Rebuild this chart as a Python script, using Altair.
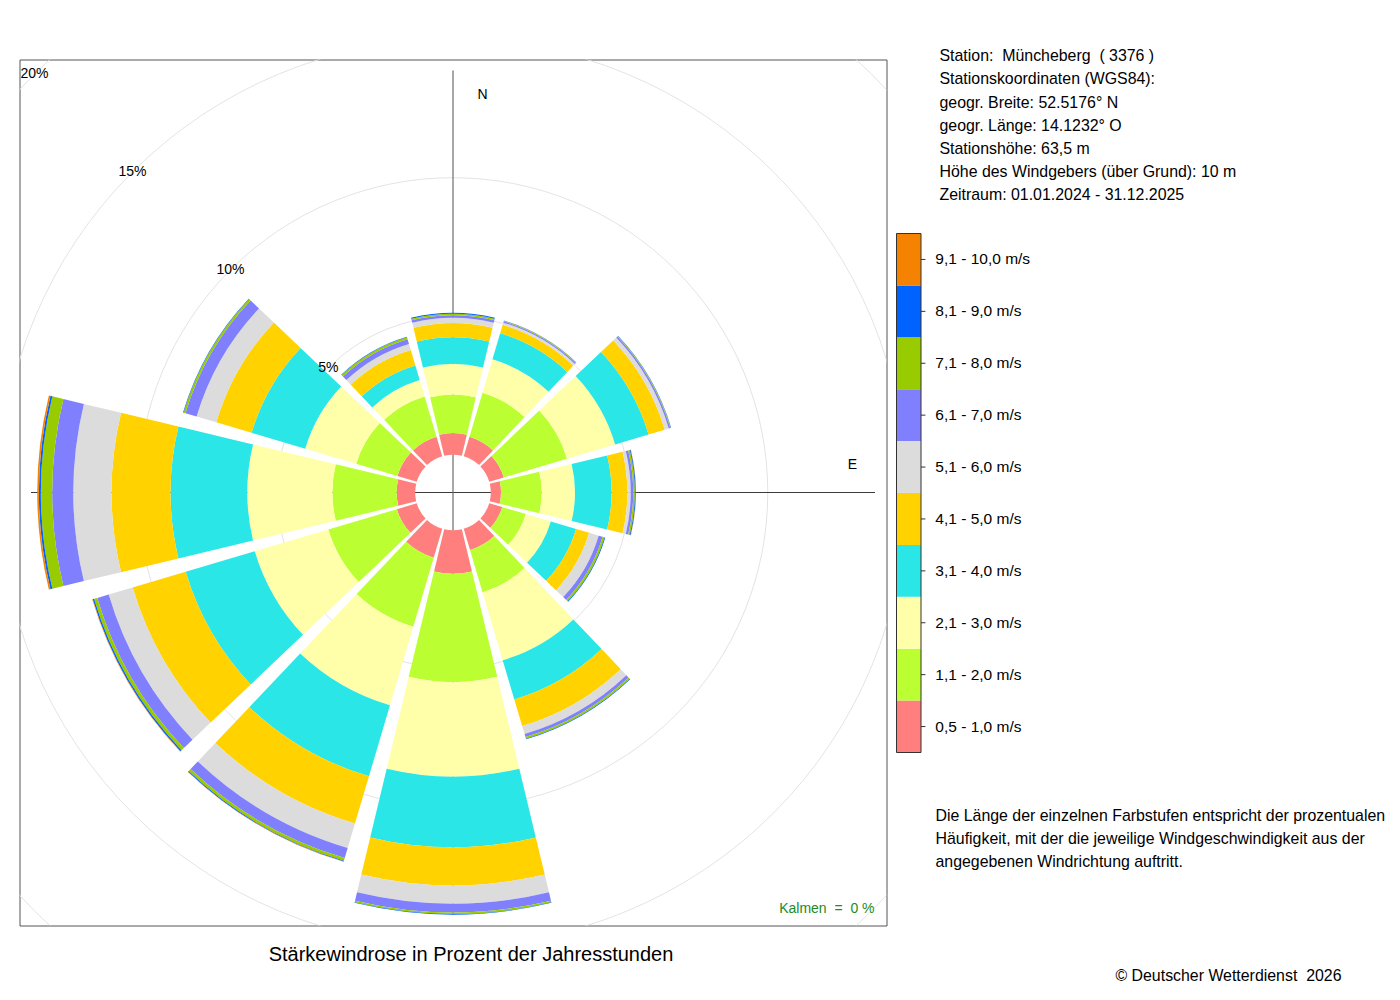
import math
import altair as alt
import pandas as pd

# ---------------- data ----------------
directions = [0, 30, 60, 90, 120, 150, 180, 210, 240, 270, 300, 330]
classes = ["0,5 - 1,0 m/s", "1,1 - 2,0 m/s", "2,1 - 3,0 m/s", "3,1 - 4,0 m/s",
           "4,1 - 5,0 m/s", "5,1 - 6,0 m/s", "6,1 - 7,0 m/s", "7,1 - 8,0 m/s",
           "8,1 - 9,0 m/s", "9,1 - 10,0 m/s"]
colors = ["#FF7F7F", "#BBFF33", "#FFFFAA", "#2AE6E6", "#FFD200",
          "#DCDCDC", "#8080FF", "#99CC00", "#0062FF", "#F58200"]

# percent of hours, one list per speed class, ordered like `directions`
v_05_10 = [0.78, 0.73, 0.55, 0.37, 0.49, 0.80, 1.57, 1.09, 0.75, 0.67, 0.73, 0.73]
v_11_20 = [1.39, 1.66, 2.38, 1.47, 0.89, 1.59, 3.91, 2.60, 2.58, 2.32, 1.55, 1.52]
v_21_30 = [1.11, 1.26, 1.81, 1.20, 0.94, 2.56, 3.41, 2.96, 2.77, 3.07, 1.92, 0.62]
v_31_40 = [0.96, 0.98, 1.26, 1.32, 0.95, 1.48, 2.55, 2.67, 2.60, 2.77, 2.02, 0.55]
v_41_50 = [0.51, 0.32, 0.61, 0.57, 0.49, 1.00, 1.38, 1.78, 2.00, 2.13, 1.33, 0.58]
v_51_60 = [0.19, 0.08, 0.15, 0.12, 0.36, 0.30, 0.66, 0.92, 0.90, 1.38, 0.74, 0.23]
v_61_70 = [0.09, 0.05, 0.06, 0.09, 0.15, 0.11, 0.31, 0.38, 0.43, 0.76, 0.42, 0.18]
v_71_80 = [0.06, 0.02, 0.02, 0.06, 0.07, 0.07, 0.06, 0.10, 0.12, 0.41, 0.07, 0.07]
v_81_90 = [0.03, 0.01, 0.01, 0.03, 0.03, 0.02, 0.02, 0.03, 0.05, 0.07, 0.02, 0.02]
v_91_100 = [0.00, 0.00, 0.00, 0.01, 0.00, 0.00, 0.00, 0.01, 0.02, 0.06, 0.00, 0.00]

ring_values = [5, 10, 15, 20]
ring_labels = ["5%", "10%", "15%", "20%"]

NB = "\u00a0"  # keeps the doubled spaces of the original texts
station_lines = [
    "Station:" + NB + " Müncheberg" + NB + " ( 3376 )",
    "Stationskoordinaten (WGS84):",
    "geogr. Breite: 52.5176° N",
    "geogr. Länge: 14.1232° O",
    "Stationshöhe: 63,5 m",
    "Höhe des Windgebers (über Grund): 10 m",
    "Zeitraum: 01.01.2024 - 31.12.2025",
]
description_lines = [
    "Die Länge der einzelnen Farbstufen entspricht der prozentualen",
    "Häufigkeit, mit der die jeweilige Windgeschwindigkeit aus der",
    "angegebenen Windrichtung auftritt.",
]
title_text = "Stärkewindrose in Prozent der Jahresstunden"
calm_text = "Kalmen" + NB + " =" + NB + " 0 %"
copyright_text = "© Deutscher Wetterdienst" + NB + " 2026"

# ---------------- tables ----------------
speed_values = [v_05_10, v_11_20, v_21_30, v_31_40, v_41_50,
                v_51_60, v_61_70, v_71_80, v_81_90, v_91_100]
HALF = 13.5  # half sector width in degrees

rows = []
totals = []
for i, d in enumerate(directions):
    lo = 0.0
    for k, cls in enumerate(classes):
        val = speed_values[k][i]
        if val > 0:
            rows.append({"dir": d, "cls": cls, "k": k, "lo": lo, "hi": lo + val,
                         "t1": d - HALF, "t2": d + HALF})
        lo += val
    totals.append(lo)
bars = pd.DataFrame(rows)
rmax = max(totals)

rings = pd.DataFrame({"p": ring_values, "lab": ring_labels})
axes_df = pd.DataFrame({"a": [0, 90, 180, 270],
                        "col": ["#8A8A8A", "#3C3C3C", "#8A8A8A", "#3C3C3C"],
                        "ext": [rmax] * 4})
leg = pd.DataFrame({"cls": classes, "k": list(range(len(classes)))})
one = pd.DataFrame({"z": [0]})

# ---------------- scales ----------------
theta_scale = alt.Scale(domain=[0, 360], range=[0, 2 * math.pi])
r_scale = alt.Scale(type="linear", domain=[0, 20], range=[37.8, 591.8], zero=False)
color_scale = alt.Scale(domain=classes, range=colors)
x_leg = alt.Scale(domain=[0, 1], range=[877, 901.5])
y_leg = alt.Scale(domain=[0, 10], range=[693, 174])

FONT = "Liberation Sans"
FS = 15.9

ring_layer = alt.Chart(rings).mark_arc(
    filled=False, stroke="#E3E3E3", strokeWidth=1, clip=True
).encode(
    theta=alt.value(0), theta2=alt.value(2 * math.pi),
    radius=alt.Radius("p:Q", scale=r_scale, stack=None),
    radius2=alt.value(0),
)

axis_layer = alt.Chart(axes_df).mark_arc(filled=False, strokeWidth=1).encode(
    theta=alt.Theta("a:Q", scale=theta_scale, stack=None),
    theta2=alt.Theta2("a:Q"),
    radius=alt.Radius("ext:Q", scale=r_scale, stack=None),
    radius2=alt.value(0),
    stroke=alt.Stroke("col:N", scale=None, legend=None),
)

bar_layer = alt.Chart(bars).mark_arc().encode(
    theta=alt.Theta("t1:Q", scale=theta_scale, stack=None),
    theta2=alt.Theta2("t2:Q"),
    radius=alt.Radius("hi:Q", scale=r_scale, stack=None),
    radius2=alt.Radius2("lo:Q"),
    color=alt.Color("cls:N", scale=color_scale, legend=None),
)

ring_text = alt.Chart(rings).mark_text(
    fontSize=14, font=FONT, align="center", baseline="middle", color="black"
).encode(
    theta=alt.value(math.radians(315)),
    radius=alt.Radius("p:Q", scale=r_scale, stack=None),
    text="lab:N",
)

n_label = alt.Chart(one).mark_text(text="N", fontSize=14, font=FONT, align="center",
                                   baseline="middle", color="black").encode(
    x=alt.value(463), y=alt.value(35))
e_label = alt.Chart(one).mark_text(text="E", fontSize=14, font=FONT, align="center",
                                   baseline="middle", color="black").encode(
    x=alt.value(833), y=alt.value(405))

calm = alt.Chart(one).mark_text(text=calm_text, fontSize=14, font=FONT, align="right",
                                baseline="middle", color="#228B22").encode(
    x=alt.value(855), y=alt.value(849))

title = alt.Chart(one).mark_text(text=title_text, fontSize=20, font=FONT, align="center",
                                 baseline="middle", color="black").encode(
    x=alt.value(451.5), y=alt.value(895))

station = alt.Chart(one).mark_text(text=station_lines, fontSize=FS, font=FONT, align="left",
                                   baseline="top", lineHeight=23.17, color="black").encode(
    x=alt.value(920), y=alt.value(-11.3))

descr = alt.Chart(one).mark_text(text=description_lines, fontSize=FS, font=FONT, align="left",
                                 baseline="top", lineHeight=23, color="black").encode(
    x=alt.value(916), y=alt.value(748.7))

copyright_t = alt.Chart(one).mark_text(text=copyright_text, fontSize=FS, font=FONT,
                                       align="right", baseline="middle", color="black").encode(
    x=alt.value(1322), y=alt.value(916.5))

leg_rect = alt.Chart(leg).mark_rect().transform_calculate(k1="datum.k + 1").encode(
    x=alt.XDatum(0, type="quantitative", scale=x_leg, axis=None),
    x2=alt.X2Datum(1),
    y=alt.Y("k:Q", scale=y_leg, axis=None),
    y2=alt.Y2("k1:Q"),
    color=alt.Color("cls:N", scale=color_scale, legend=None),
)
leg_border = alt.Chart(one).mark_rect(filled=False, stroke="#333333", strokeWidth=1).encode(
    x=alt.XDatum(0, type="quantitative", scale=x_leg, axis=None),
    x2=alt.X2Datum(1),
    y=alt.YDatum(0, type="quantitative", scale=y_leg, axis=None),
    y2=alt.Y2Datum(10),
)
leg_ticks = alt.Chart(leg).mark_rule(color="#333333", strokeWidth=1).transform_calculate(
    mid="datum.k + 0.5").encode(
    x=alt.XDatum(1, type="quantitative", scale=x_leg, axis=None),
    x2=alt.X2Datum(1.18),
    y=alt.Y("mid:Q", scale=y_leg, axis=None),
)
leg_text = alt.Chart(leg).mark_text(fontSize=15.5, font=FONT, align="left", baseline="middle",
                                    color="black").transform_calculate(
    mid="datum.k + 0.5").encode(
    x=alt.XDatum(1.585, type="quantitative", scale=x_leg, axis=None),
    y=alt.Y("mid:Q", scale=y_leg, axis=None),
    text="cls:N",
)

chart = alt.layer(
    ring_layer, axis_layer, bar_layer, ring_text, n_label, e_label, calm, title,
    station, descr, copyright_t, leg_rect, leg_border, leg_ticks, leg_text,
).properties(
    width=867, height=866,
    autosize=alt.AutoSizeParams(type="none"),
    padding={"left": 11.5, "top": 51.5, "right": 505.5, "bottom": 66.5},
    background="white",
).configure(font=FONT).configure_view(stroke="#555555", strokeWidth=1)

chart.save("out.html", embed_options={"renderer": "svg", "actions": False})
